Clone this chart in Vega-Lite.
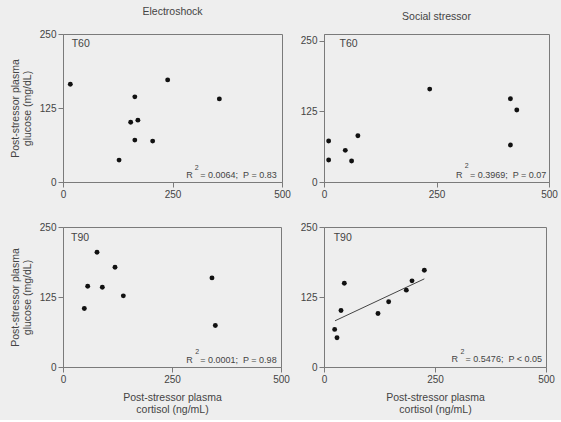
{
  "$schema": "https://vega.github.io/schema/vega-lite/v6.json",
  "background": "#eeeeee",
  "padding": {"left": 9, "top": 6, "right": 5, "bottom": 5},
  "datasets": {
    "pts": [
      {"panel": "ES60", "x": 16.7, "y": 165.2}, {"panel": "ES60", "x": 239, "y": 172.5}, {"panel": "ES60", "x": 164, "y": 143.8},
      {"panel": "ES60", "x": 357, "y": 140.4}, {"panel": "ES60", "x": 154.5, "y": 101}, {"panel": "ES60", "x": 171, "y": 104.5},
      {"panel": "ES60", "x": 164, "y": 70.8}, {"panel": "ES60", "x": 204.7, "y": 69.1}, {"panel": "ES60", "x": 128, "y": 37},
      {"panel": "SS60", "x": 10.3, "y": 72.5}, {"panel": "SS60", "x": 10.3, "y": 38.9}, {"panel": "SS60", "x": 47.3, "y": 56},
      {"panel": "SS60", "x": 61.3, "y": 37.1}, {"panel": "SS60", "x": 75.3, "y": 82}, {"panel": "SS60", "x": 234.9, "y": 164.5},
      {"panel": "SS60", "x": 414.3, "y": 147.4}, {"panel": "SS60", "x": 428.4, "y": 127.4}, {"panel": "SS60", "x": 414.3, "y": 65.4},
      {"panel": "ES90", "x": 78, "y": 204.9}, {"panel": "ES90", "x": 119.3, "y": 178.1}, {"panel": "ES90", "x": 56.6, "y": 144.3},
      {"panel": "ES90", "x": 90.2, "y": 142.5}, {"panel": "ES90", "x": 138.4, "y": 127.1}, {"panel": "ES90", "x": 48.9, "y": 104.5},
      {"panel": "ES90", "x": 341.7, "y": 159.1}, {"panel": "ES90", "x": 349.4, "y": 74.2},
      {"panel": "SS90", "x": 24, "y": 67.1}, {"panel": "SS90", "x": 29.3, "y": 52.3}, {"panel": "SS90", "x": 38.3, "y": 101},
      {"panel": "SS90", "x": 45.8, "y": 149.6}, {"panel": "SS90", "x": 121.6, "y": 95.6}, {"panel": "SS90", "x": 145.6, "y": 116.4},
      {"panel": "SS90", "x": 185.4, "y": 137.2}, {"panel": "SS90", "x": 198.2, "y": 153.8}, {"panel": "SS90", "x": 226, "y": 172.8}
    ],
    "tags": [
      {"panel": "ES60", "x": 19.8, "y": 233.7, "text": "T60"},
      {"panel": "SS60", "x": 34.7, "y": 244, "text": "T60"},
      {"panel": "ES90", "x": 18.3, "y": 230.4, "text": "T90"},
      {"panel": "SS90", "x": 21.8, "y": 230.4, "text": "T90"}
    ],
    "stats": [
      {"panel": "ES60", "x": 488, "y": 7.6, "text": "R\u00a0\u00a0\u00a0= 0.0064;\u00a0\u00a0P = 0.83"},
      {"panel": "SS60", "x": 494, "y": 7.6, "text": "R\u00a0\u00a0\u00a0= 0.3969;\u00a0\u00a0P = 0.07"},
      {"panel": "ES90", "x": 490, "y": 7.7, "text": "R\u00a0\u00a0\u00a0= 0.0001;\u00a0\u00a0P = 0.98"},
      {"panel": "SS90", "x": 491, "y": 8.9, "text": "R\u00a0\u00a0\u00a0= 0.5476;\u00a0\u00a0P < 0.05"}
    ],
    "sups": [
      {"panel": "ES60", "x": 305, "y": 24, "text": "2"},
      {"panel": "SS60", "x": 317, "y": 27.6, "text": "2"},
      {"panel": "ES90", "x": 308, "y": 26, "text": "2"},
      {"panel": "SS90", "x": 312, "y": 27.3, "text": "2"}
    ],
    "fit": [
      {"panel": "SS90", "x": 24.8, "y": 82.5},
      {"panel": "SS90", "x": 226, "y": 157.4}
    ]
  },
  "columns": 2,
  "spacing": {"row": 45, "column": 42},
  "bounds": "flush",
  "align": "each",
  "concat": [
    {
      "width": 219, "height": 148,
      "title": "Electroshock",
      "encoding": {
        "x": {"field": "x", "type": "quantitative", "scale": {"domain": [0, 500], "nice": false}, "axis": {"values": [0, 250, 500], "title": null}},
        "y": {"field": "y", "type": "quantitative", "scale": {"domain": [0, 250], "nice": false}, "axis": {"values": [0, 125, 250], "title": ["Post-stressor plasma", "glucose (mg/dL)"]}}
      },
      "layer": [
        {"data": {"name": "pts"}, "transform": [{"filter": "datum.panel === 'ES60'"}], "mark": {"type": "circle", "size": 24, "color": "#111111", "opacity": 1}},
        {"data": {"name": "tags"}, "transform": [{"filter": "datum.panel === 'ES60'"}], "mark": {"type": "text", "align": "left", "baseline": "middle", "fontSize": 10.5, "font": "Liberation Sans", "color": "#444444"}, "encoding": {"text": {"field": "text"}}},
        {"data": {"name": "stats"}, "transform": [{"filter": "datum.panel === 'ES60'"}], "mark": {"type": "text", "align": "right", "baseline": "alphabetic", "fontSize": 9, "font": "Liberation Sans", "color": "#444444"}, "encoding": {"text": {"field": "text"}}},
        {"data": {"name": "sups"}, "transform": [{"filter": "datum.panel === 'ES60'"}], "mark": {"type": "text", "align": "center", "baseline": "middle", "fontSize": 7, "font": "Liberation Sans", "color": "#444444"}, "encoding": {"text": {"field": "text"}}}
      ]
    },
    {
      "width": 225, "height": 148,
      "title": "Social stressor",
      "encoding": {
        "x": {"field": "x", "type": "quantitative", "scale": {"domain": [0, 500], "nice": false}, "axis": {"values": [0, 250, 500], "title": null}},
        "y": {"field": "y", "type": "quantitative", "scale": {"domain": [0, 262], "nice": false}, "axis": {"values": [0, 125, 250], "title": null}}
      },
      "layer": [
        {"data": {"name": "pts"}, "transform": [{"filter": "datum.panel === 'SS60'"}], "mark": {"type": "circle", "size": 24, "color": "#111111", "opacity": 1}},
        {"data": {"name": "tags"}, "transform": [{"filter": "datum.panel === 'SS60'"}], "mark": {"type": "text", "align": "left", "baseline": "middle", "fontSize": 10.5, "font": "Liberation Sans", "color": "#444444"}, "encoding": {"text": {"field": "text"}}},
        {"data": {"name": "stats"}, "transform": [{"filter": "datum.panel === 'SS60'"}], "mark": {"type": "text", "align": "right", "baseline": "alphabetic", "fontSize": 9, "font": "Liberation Sans", "color": "#444444"}, "encoding": {"text": {"field": "text"}}},
        {"data": {"name": "sups"}, "transform": [{"filter": "datum.panel === 'SS60'"}], "mark": {"type": "text", "align": "center", "baseline": "middle", "fontSize": 7, "font": "Liberation Sans", "color": "#444444"}, "encoding": {"text": {"field": "text"}}}
      ]
    },
    {
      "width": 218, "height": 140,
      "encoding": {
        "x": {"field": "x", "type": "quantitative", "scale": {"domain": [0, 500], "nice": false}, "axis": {"values": [0, 250, 500], "title": ["Post-stressor plasma", "cortisol (ng/mL)"]}},
        "y": {"field": "y", "type": "quantitative", "scale": {"domain": [0, 250], "nice": false}, "axis": {"values": [0, 125, 250], "title": ["Post-stressor plasma", "glucose (mg/dL)"]}}
      },
      "layer": [
        {"data": {"name": "pts"}, "transform": [{"filter": "datum.panel === 'ES90'"}], "mark": {"type": "circle", "size": 24, "color": "#111111", "opacity": 1}},
        {"data": {"name": "tags"}, "transform": [{"filter": "datum.panel === 'ES90'"}], "mark": {"type": "text", "align": "left", "baseline": "middle", "fontSize": 10.5, "font": "Liberation Sans", "color": "#444444"}, "encoding": {"text": {"field": "text"}}},
        {"data": {"name": "stats"}, "transform": [{"filter": "datum.panel === 'ES90'"}], "mark": {"type": "text", "align": "right", "baseline": "alphabetic", "fontSize": 9, "font": "Liberation Sans", "color": "#444444"}, "encoding": {"text": {"field": "text"}}},
        {"data": {"name": "sups"}, "transform": [{"filter": "datum.panel === 'ES90'"}], "mark": {"type": "text", "align": "center", "baseline": "middle", "fontSize": 7, "font": "Liberation Sans", "color": "#444444"}, "encoding": {"text": {"field": "text"}}}
      ]
    },
    {
      "width": 222, "height": 140,
      "encoding": {
        "x": {"field": "x", "type": "quantitative", "scale": {"domain": [0, 500], "nice": false}, "axis": {"values": [0, 250, 500], "title": ["Post-stressor plasma", "cortisol (ng/mL)"]}},
        "y": {"field": "y", "type": "quantitative", "scale": {"domain": [0, 250], "nice": false}, "axis": {"values": [0, 125, 250], "title": null}}
      },
      "layer": [
        {"data": {"name": "fit"}, "transform": [{"filter": "datum.panel === 'SS90'"}], "mark": {"type": "line", "color": "#444444", "strokeWidth": 1}},
        {"data": {"name": "pts"}, "transform": [{"filter": "datum.panel === 'SS90'"}], "mark": {"type": "circle", "size": 24, "color": "#111111", "opacity": 1}},
        {"data": {"name": "tags"}, "transform": [{"filter": "datum.panel === 'SS90'"}], "mark": {"type": "text", "align": "left", "baseline": "middle", "fontSize": 10.5, "font": "Liberation Sans", "color": "#444444"}, "encoding": {"text": {"field": "text"}}},
        {"data": {"name": "stats"}, "transform": [{"filter": "datum.panel === 'SS90'"}], "mark": {"type": "text", "align": "right", "baseline": "alphabetic", "fontSize": 9, "font": "Liberation Sans", "color": "#444444"}, "encoding": {"text": {"field": "text"}}},
        {"data": {"name": "sups"}, "transform": [{"filter": "datum.panel === 'SS90'"}], "mark": {"type": "text", "align": "center", "baseline": "middle", "fontSize": 7, "font": "Liberation Sans", "color": "#444444"}, "encoding": {"text": {"field": "text"}}}
      ]
    }
  ],
  "config": {
    "font": "Liberation Sans",
    "view": {"stroke": "#7a7a7a", "strokeWidth": 1},
    "title": {"fontSize": 10.5, "fontWeight": "normal", "color": "#444444", "offset": 12, "font": "Liberation Sans"},
    "axis": {
      "grid": false,
      "domainColor": "#7a7a7a",
      "tickColor": "#7a7a7a",
      "tickSize": 5,
      "labelPadding": 2,
      "labelFontSize": 10,
      "labelColor": "#444444",
      "labelFont": "Liberation Sans",
      "labelFlush": false,
      "labelOverlap": false,
      "titleFontSize": 10.5,
      "titleFontWeight": "normal",
      "titleColor": "#444444",
      "titleFont": "Liberation Sans",
      "titleLineHeight": 12
    },
    "axisY": {"titlePadding": 7},
    "axisX": {"titlePadding": 8}
  }
}
